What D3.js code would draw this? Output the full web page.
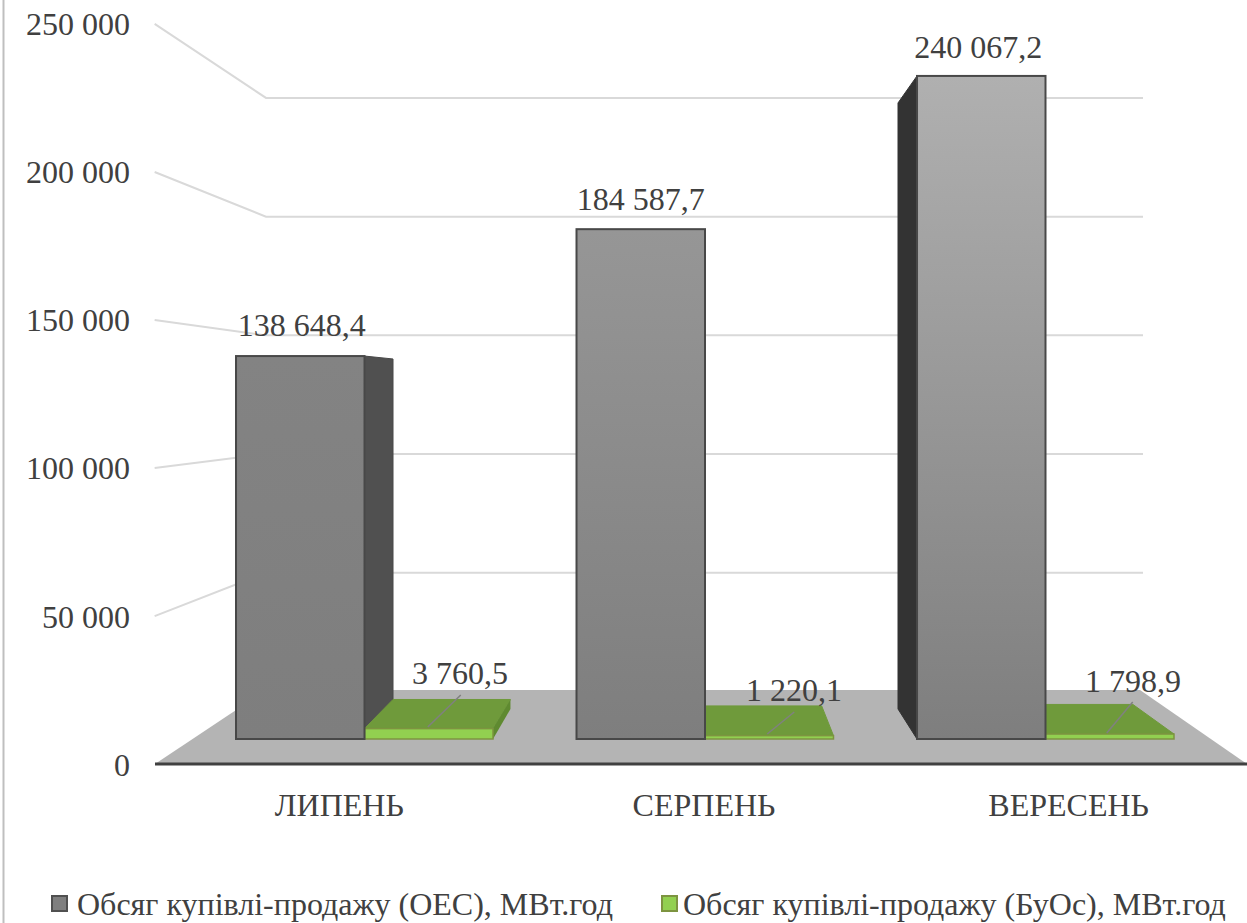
<!DOCTYPE html>
<html><head><meta charset="utf-8">
<script src="https://cdn.jsdelivr.net/npm/d3@7"></script>
<style>
html,body{margin:0;padding:0;background:#fff}
svg{display:block}
text{font-family:"Liberation Serif","Times New Roman",serif;fill:#404040}
</style></head><body>
<svg id="c" width="1247" height="923"></svg>
<script>
const categories = ["ЛИПЕНЬ","СЕРПЕНЬ","ВЕРЕСЕНЬ"];
const seriesNames = ["Обсяг купівлі-продажу (ОЕС), МВт.год","Обсяг купівлі-продажу (БуОс), МВт.год"];
const oesValues = [138648.4,184587.7,240067.2];
const buosValues = [3760.5,1220.1,1798.9];
const oesLabels = ["138 648,4","184 587,7","240 067,2"];
const buosLabels = ["3 760,5","1 220,1","1 798,9"];
const yTicks = [0,50000,100000,150000,200000,250000];

const W=1247,H=923, FS=32;
const svg=d3.select("#c");
const VX=696,VY=390, S_BAR=0.914, S_WALL=0.8596, S_FRONT=1.072;
const P=(x,y,s)=>[VX+(x-VX)*s, VY+(y-VY)*s];
const y0=d3.scaleLinear().domain([0,250000]).range([739,48.5]);
const xG=d3.scaleBand().domain(categories).range([194.25,1215.75]);
const xS=d3.scaleBand().domain([0,1]).range([0,xG.bandwidth()]).paddingInner(0).paddingOuter(0.325);

const defs=svg.append("defs");
const barTop=["#838383","#969696","#b0b0b0"];
barTop.forEach((c,i)=>{
  const g=defs.append("linearGradient").attr("id","bar"+i).attr("x1",0).attr("x2",0).attr("y1",0).attr("y2",1);
  g.append("stop").attr("offset",0).attr("stop-color",c);
  g.append("stop").attr("offset",1).attr("stop-color","#7e7e7e");
});

// frame
svg.append("line").attr("x1",3.5).attr("x2",3.5).attr("y1",0).attr("y2",H).attr("stroke","#bfbfbf").attr("stroke-width",2);

const path=pts=>"M"+pts.map(p=>p.join(",")).join("L")+"Z";
const line=d3.line();

// walls
const leftX=191;
const gridG=svg.append("g");
yTicks.filter(d=>d>0).forEach(t=>{
  const y=y0(t);
  gridG.append("path").attr("fill","none").attr("stroke","#d9d9d9").attr("stroke-width",2)
   .attr("d",line([P(leftX,y,S_FRONT),[266,VY+(y-VY)*S_WALL+1.5],[1143,VY+(y-VY)*S_WALL+1.5]]));
});
// floor
svg.append("path").attr("fill","#b4b4b4")
 .attr("d",path([[155,764],[266,690],[1140,690],[1247,764]]));
svg.append("line").attr("x1",155).attr("x2",1247).attr("y1",764).attr("y2",764).attr("stroke","#404040").attr("stroke-width",3);

const barG=svg.append("g");
function box(x,w,v){const t=y0(v),b=y0(0);return {l:x,r:x+w,t,b};}
const grey=oesValues.map((v,i)=>box(xG(categories[i])+xS(0),xS.bandwidth(),v));
const green=buosValues.map((v,i)=>box(xG(categories[i])+xS(1),xS.bandwidth(),v));

// grey side faces
grey.forEach(r=>{
  if(r.r<VX-5){
    barG.append("path").attr("fill","#505050").attr("stroke","#484848").attr("stroke-width",1)
     .attr("d",path([[r.r,r.t],P(r.r,r.t,S_BAR),P(r.r,r.b,S_BAR),[r.r,r.b]]));
  }
  if(r.l>VX+5){
    barG.append("path").attr("fill","#333333").attr("stroke","#333333").attr("stroke-width",1)
     .attr("d",path([[r.l,r.t],P(r.l,r.t,S_BAR),P(r.l,r.b,S_BAR),[r.l,r.b]]));
  }
});
// green
green.forEach(r=>{
  barG.append("path").attr("fill","#6f9a3b").attr("stroke","#6f9a3b").attr("stroke-width",1)
   .attr("d",path([[r.l,r.t],[r.r,r.t],P(r.r,r.t,S_BAR),P(r.l,r.t,S_BAR)]));
  if(r.r<VX){
    barG.append("path").attr("fill","#5f8a30").attr("d",path([[r.r,r.t],P(r.r,r.t,S_BAR),P(r.r,r.b,S_BAR),[r.r,r.b]]));
  }
  barG.append("rect").attr("x",r.l).attr("y",r.t).attr("width",r.r-r.l).attr("height",r.b-r.t)
   .attr("fill","#92d050").attr("stroke","#7d9440").attr("stroke-width",1.5);
});
// grey fronts
grey.forEach((r,i)=>{
  barG.append("rect").attr("x",r.l).attr("y",r.t).attr("width",r.r-r.l).attr("height",r.b-r.t)
   .attr("fill","url(#bar"+i+")").attr("stroke","#484848").attr("stroke-width",2);
});

// leaders
const leaderTop=[695,712,702], leaderBot=[727,734,733];
const leaderBotDX=[-1,-2,-3], leaderTopDX=[32,25,23];
green.forEach((r,i)=>{
  const cx=(r.l+r.r)/2;
  barG.append("line").attr("x1",cx+leaderBotDX[i]).attr("y1",leaderBot[i]).attr("x2",cx+leaderTopDX[i]).attr("y2",leaderTop[i])
   .attr("stroke","#808080").attr("stroke-width",1.5);
});

// data labels
const lab=svg.append("g").attr("font-size",FS).attr("text-anchor","middle");
const oesDX=[1.5,0,-3], oesDY=[-20,-19,-18];
grey.forEach((r,i)=>lab.append("text").attr("x",(r.l+r.r)/2+oesDX[i]).attr("y",r.t+oesDY[i]).text(oesLabels[i]));
const buosX=[460,794,1133], buosY=[684,701,692];
green.forEach((r,i)=>lab.append("text").attr("x",buosX[i]).attr("y",buosY[i]).text(buosLabels[i]));

// axes
const yA=d3.scaleLinear().domain([0,250000]).range([764,22.5]);
const fmt=d=>d===0?"0":d3.format(",")(d).replace(/,/g," ");
const ya=svg.append("g").attr("transform","translate(130,0)")
 .call(d3.axisLeft(yA).tickValues(yTicks).tickFormat(fmt).tickSize(0).tickPadding(0));
ya.select(".domain").remove();
ya.selectAll("text").attr("font-size",FS).attr("font-family",null).attr("dy","0.36em");

const xA=d3.scaleBand().domain(categories).range([157,1251]);
const xa=svg.append("g").attr("transform","translate(0,790)")
 .call(d3.axisBottom(xA).tickSize(0).tickPadding(0));
xa.select(".domain").remove();
xa.selectAll("text").attr("font-size",FS).attr("font-family",null).attr("dy","0.8em");

// legend
const legX=[52,662], legT=[77,683], legC=["#7f7f7f","#92d050"], legS=["#505050","#7d9440"];
seriesNames.forEach((n,i)=>{
  svg.append("rect").attr("x",legX[i]).attr("y",896).attr("width",15).attr("height",15)
    .attr("fill",legC[i]).attr("stroke",legS[i]).attr("stroke-width",2);
  svg.append("text").attr("x",legT[i]).attr("y",915).attr("font-size",FS).text(n);
});
</script></body></html>
